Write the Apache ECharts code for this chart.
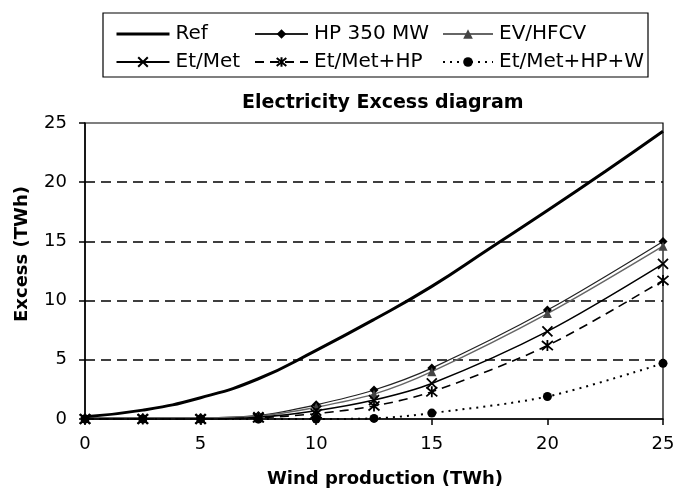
<!DOCTYPE html>
<html>
<head>
<meta charset="utf-8">
<script src="https://cdn.jsdelivr.net/npm/echarts@6/dist/echarts.min.js"></script>
<style>
  html, body { margin: 0; padding: 0; background: #fff; }
  #chart { width: 685px; height: 493px; }
</style>
</head>
<body>
<div id="chart"></div>
<script>
// Wind production (TWh) sample points
var windRef = [0, 2.5, 5, 7.5, 10, 12.5, 15, 17.5, 20, 22.5, 25];
var windScen = [0, 2.5, 5, 7.5, 10, 12.5, 15, 20, 25];

// Electricity excess (TWh) per scenario
var excessRef      = [0.2, 0.75, 1.8, 3.4, 5.8, 8.4, 11.2, 14.4, 17.6, 20.9, 24.3];
var excessHP       = [0.1, 0.1, 0.1, 0.3, 1.2, 2.45, 4.3, 9.2, 15.0];
var excessEV       = [0.1, 0.1, 0.1, 0.25, 1.0, 2.1, 4.0, 8.9, 14.6];
var excessEtMet    = [0.0, 0.0, 0.0, 0.15, 0.7, 1.6, 3.0, 7.4, 13.1];
var excessEtMetHP  = [0.0, 0.0, 0.0, 0.1, 0.45, 1.1, 2.3, 6.2, 11.7];
var excessEtMetHPW = [0.0, 0.0, 0.0, 0.0, 0.0, 0.05, 0.5, 1.9, 4.7];

var seriesNames = ['Ref', 'HP 350 MW', 'EV/HFCV', 'Et/Met', 'Et/Met+HP', 'Et/Met+HP+W'];

function pairs(xs, ys) {
  return xs.map(function (x, i) { return [x, ys[i]]; });
}

var FONT = 'DejaVu Sans';
var crossPath = 'path://M0,0L10,10M10,0L0,10';
var starPath = 'path://M0,0L10,10M10,0L0,10M5,-1L5,11';

function legendColumn(left, width, names) {
  return {
    orient: 'vertical', left: left, top: 19, itemWidth: width, itemHeight: 12, itemGap: 8,
    textStyle: { fontFamily: FONT, fontSize: 20, color: '#000', padding: [0, 0, 0, 1] },
    data: names
  };
}

var chart = echarts.init(document.getElementById('chart'));

chart.setOption({
  animation: false,
  backgroundColor: '#fff',
  title: {
    text: 'Electricity Excess diagram',
    left: 237,
    top: 89,
    textStyle: { fontFamily: FONT, fontSize: 19, fontWeight: 'bold', color: '#000' }
  },
  legend: [
    legendColumn(110, 53, [
      { name: seriesNames[0], itemStyle: { color: 'rgba(0,0,0,0)', borderWidth: 0 },
        lineStyle: { color: '#000', width: 3 } },
      seriesNames[3]
    ]),
    legendColumn(249, 53, [seriesNames[1], seriesNames[4]]),
    legendColumn(437, 50, [seriesNames[2], seriesNames[5]])
  ],
  graphic: [
    {
      type: 'rect',
      shape: { x: 103, y: 13, width: 545, height: 64 },
      style: { fill: 'none', stroke: '#000', lineWidth: 1.2 }
    }
  ],
  grid: {
    left: 85, right: 22, top: 123, bottom: 74,
    show: true, borderColor: '#000', borderWidth: 1.2, backgroundColor: 'transparent'
  },
  xAxis: {
    type: 'value', min: 0, max: 25, interval: 5,
    name: 'Wind production (TWh)', nameLocation: 'middle', nameGap: 51,
    nameTextStyle: { fontFamily: FONT, fontSize: 18, fontWeight: 'bold', color: '#000',
      padding: [0, 0, 0, 22] },
    axisLine: { lineStyle: { color: '#000', width: 1.5 } },
    axisTick: { show: true, length: 6, lineStyle: { color: '#000', width: 1.5 } },
    axisLabel: { fontFamily: FONT, fontSize: 18, color: '#000', margin: 16 },
    splitLine: { show: false }
  },
  yAxis: {
    type: 'value', min: 0, max: 25, interval: 5,
    name: 'Excess (TWh)', nameLocation: 'middle', nameGap: 54, nameRotate: 90,
    nameTextStyle: { fontFamily: FONT, fontSize: 18, fontWeight: 'bold', color: '#000',
      padding: [0, 0, 0, 34] },
    axisLine: { show: true, lineStyle: { color: '#000', width: 1.5 } },
    axisTick: { show: true, length: 6, lineStyle: { color: '#000', width: 1.5 } },
    axisLabel: { fontFamily: FONT, fontSize: 18, color: '#000', margin: 18 },
    splitLine: {
      show: true, showMinLine: false, showMaxLine: false,
      lineStyle: { color: '#000', width: 1.5, type: [10, 6] }
    }
  },
  series: [
    {
      name: seriesNames[0], type: 'line', smooth: 0.5, showSymbol: false, symbol: 'none',
      data: pairs(windRef, excessRef), z: 5,
      lineStyle: { color: '#000', width: 3 }, itemStyle: { color: '#000' }
    },
    {
      name: seriesNames[1], type: 'line', smooth: 0.3, symbol: 'diamond', symbolSize: 9,
      data: pairs(windScen, excessHP),
      lineStyle: { color: '#222', width: 1.2 }, itemStyle: { color: '#000' }
    },
    {
      name: seriesNames[2], type: 'line', smooth: 0.3, symbol: 'triangle', symbolSize: 9,
      data: pairs(windScen, excessEV),
      lineStyle: { color: '#666', width: 1.5 }, itemStyle: { color: '#444' }
    },
    {
      name: seriesNames[3], type: 'line', smooth: 0.3, symbol: crossPath, symbolSize: 10,
      data: pairs(windScen, excessEtMet),
      lineStyle: { color: '#000', width: 1.5 },
      itemStyle: { color: 'none', borderColor: '#000', borderWidth: 1.8 }
    },
    {
      name: seriesNames[4], type: 'line', smooth: 0.3, symbol: starPath, symbolSize: 11,
      data: pairs(windScen, excessEtMetHP),
      lineStyle: { color: '#000', width: 1.6, type: [9, 6] },
      itemStyle: { color: 'none', borderColor: '#000', borderWidth: 1.8 }
    },
    {
      name: seriesNames[5], type: 'line', smooth: 0.3, symbol: 'circle', symbolSize: 9,
      data: pairs(windScen, excessEtMetHPW),
      lineStyle: { color: '#000', width: 2, type: [2, 5] }, itemStyle: { color: '#000' }
    }
  ]
});
</script>
</body>
</html>
